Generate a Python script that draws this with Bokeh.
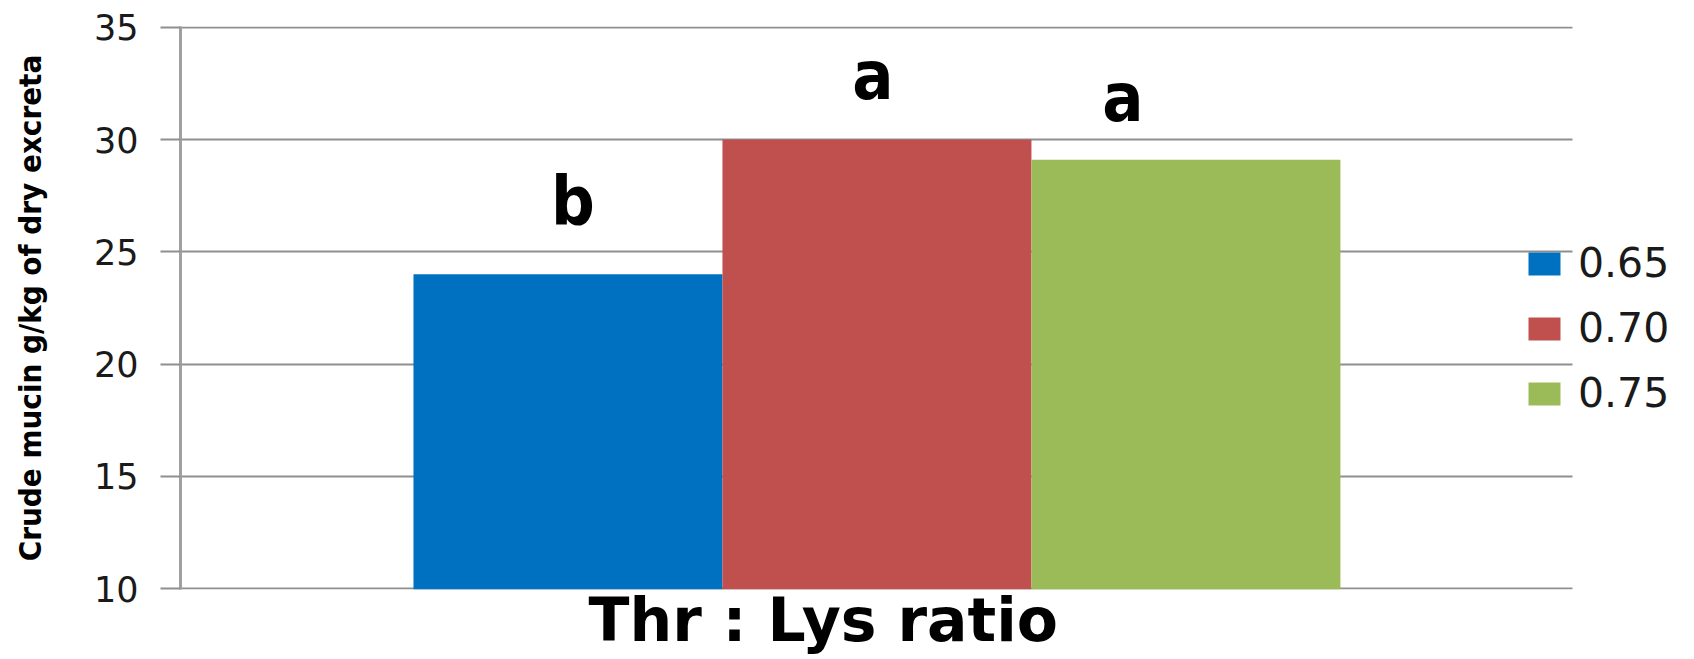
from bokeh.plotting import figure
from bokeh.models import ColumnDataSource, Range1d, Legend, LegendItem, LabelSet, Title, Grid
from bokeh.embed import file_html
from bokeh.resources import INLINE
from bokeh.core.properties import value

# ---- data ----
ratios = ["0.65", "0.70", "0.75"]
mucin = [24.0, 30.0, 29.1]
letters = ["b", "a", "a"]
colors = ["#0070C0", "#C0504D", "#9BBB59"]
y_ticks = [10, 15, 20, 25, 30, 35]
x_title = "Thr : Lys ratio"
y_title = "Crude mucin g/kg of dry excreta"

# label styling offsets (screen px)
letter_dx = [5, -4, -63]
letter_dy = [49, 41, 39]

# bars sit side by side in one group, one slot per ratio
slot = [i + 0.5 for i in range(len(ratios))]

src = ColumnDataSource(dict(x=slot, name=ratios, top=mucin, color=colors,
                            letter=letters, dx=letter_dx, dy=letter_dy))

p = figure(width=1694, height=659, output_backend="svg", toolbar_location=None,
           x_range=Range1d(-0.754, 4.133),
           y_range=Range1d(9.97, 35.03),
           min_border_left=180, min_border_right=4, min_border_top=26,
           min_border_bottom=70)
p.outline_line_color = None

r = p.vbar(x="x", top="top", bottom=9.97, width=1.0, fill_color="color",
           line_color=None, source=src)

labels = LabelSet(x="x", y="top", text="letter", source=src, x_offset="dx",
                  y_offset="dy", text_align="center", text_baseline="alphabetic",
                  text_font=value("DejaVu Sans Condensed"), text_font_style="bold",
                  text_font_size="68px", text_color="black")
p.add_layout(labels)

# y axis
p.yaxis.ticker = y_ticks
p.yaxis.axis_line_color = "#a0a0a0"
p.yaxis.axis_line_width = 3
p.yaxis.major_tick_line_color = "#8f8f8f"
p.yaxis.major_tick_line_width = 2
p.yaxis.major_tick_out = 20
p.yaxis.major_tick_in = 0
p.yaxis.minor_tick_line_color = None
p.yaxis.major_label_standoff = 22
p.yaxis.major_label_text_font = "DejaVu Sans"
p.yaxis.major_label_text_font_size = "35px"
p.yaxis.major_label_text_line_height = 1.0
p.yaxis.major_label_text_color = "#1a1a1a"
p.yaxis.axis_label = y_title
p.yaxis.axis_label_text_font = "DejaVu Sans Condensed"
p.yaxis.axis_label_text_font_style = "bold"
p.yaxis.axis_label_text_font_size = "31px"
p.yaxis.axis_label_text_color = "black"
p.yaxis.axis_label_standoff = 43

# x axis hidden; the bottom line is the gridline at 10
p.xaxis.visible = False
p.xgrid.grid_line_color = None
p.ygrid.grid_line_color = "#8f8f8f"
p.ygrid.grid_line_width = 2
if "cross_bounds" in Grid.properties():
    p.ygrid.cross_bounds = (-0.754, 3.751)

xt = Title(text=x_title, align="left", offset=408, standoff=-13,
           vertical_align="bottom",
           text_font="DejaVu Sans", text_font_style="bold",
           text_font_size="60px", text_color="black")
p.add_layout(xt, "below")

# legend: one item per bar
items = [LegendItem(label=value(ratios[i]), renderers=[r], index=i) for i in range(3)]
legend = Legend(items=items, location=(1344, 172), orientation="vertical",
                glyph_width=40, glyph_height=29, label_height=48, spacing=17,
                label_standoff=14, padding=0, margin=0,
                label_text_font="DejaVu Sans", label_text_font_size="41px",
                label_text_color="#1a1a1a", background_fill_alpha=0,
                border_line_color=None)
p.add_layout(legend)

open("out.html", "w").write(file_html(p, INLINE))
